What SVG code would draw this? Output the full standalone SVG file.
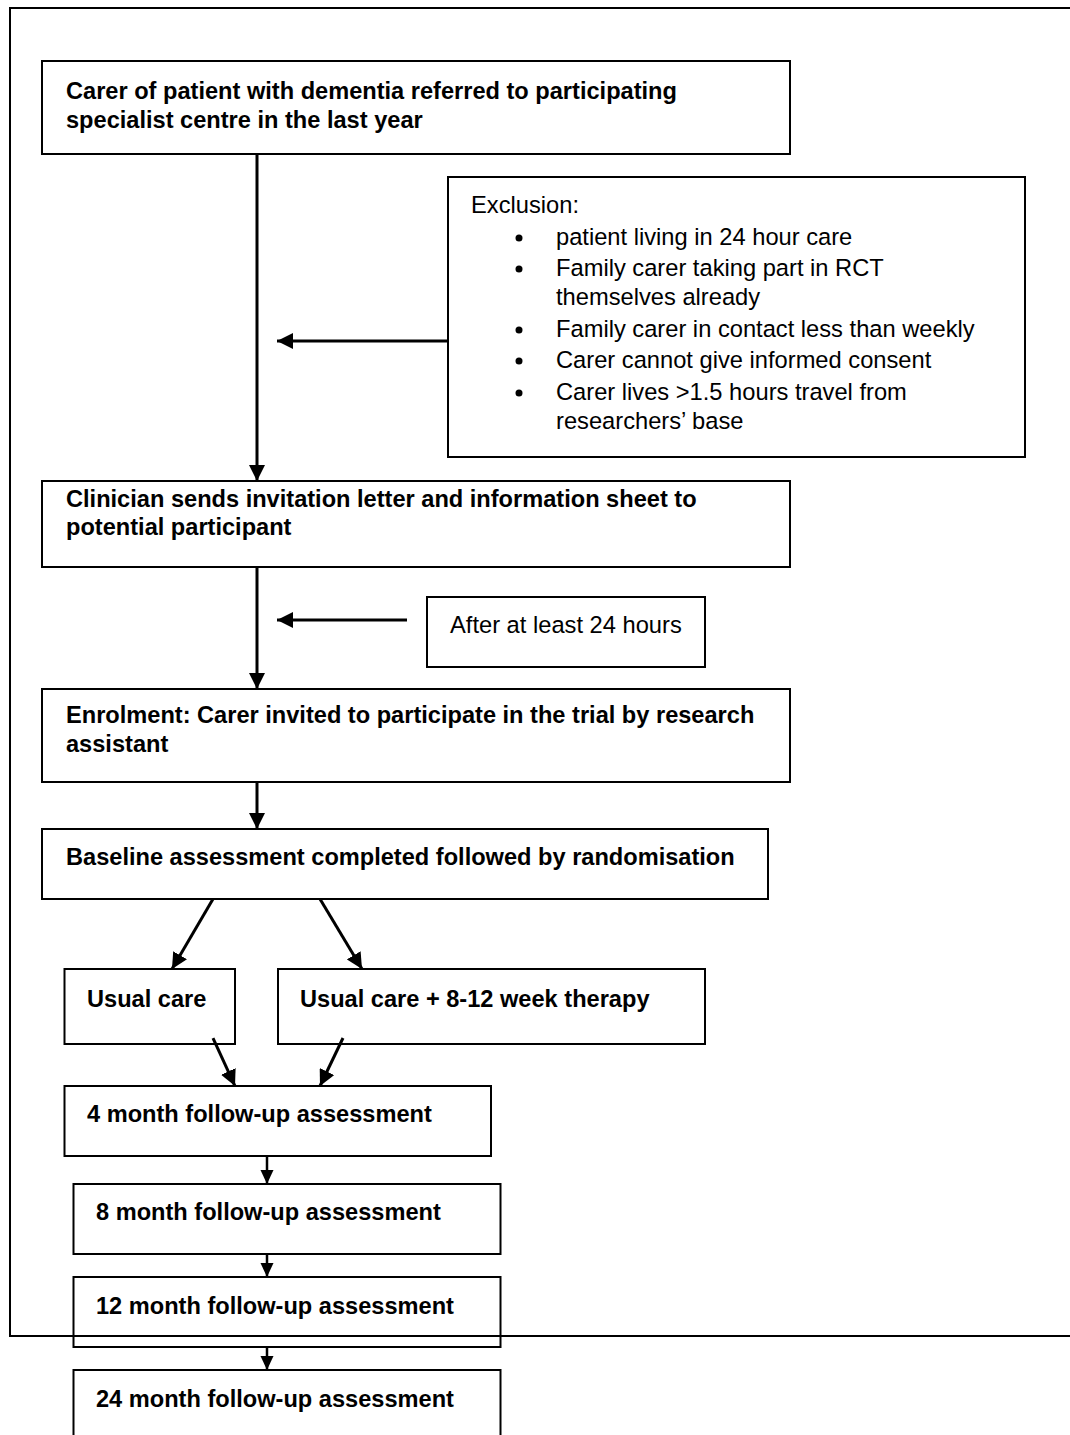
<svg xmlns="http://www.w3.org/2000/svg" width="1070" height="1435" viewBox="0 0 1070 1435">
<style>
.box{fill:none;stroke:#000;stroke-width:2}
.b{font-family:"Liberation Sans",Arial,sans-serif;font-weight:bold;font-size:23.6px;fill:#000}
.n{font-family:"Liberation Sans",Arial,sans-serif;font-size:23.7px;fill:#000}
.c{stroke:#000;stroke-width:3;fill:none}
.c2{stroke:#000;stroke-width:2.5;fill:none}
</style>
<defs>
<marker id="ah" markerUnits="userSpaceOnUse" markerWidth="16" markerHeight="16" viewBox="0 0 16 16" refX="16" refY="8" orient="auto">
<path d="M0,0 L16,8 L0,16 Z" fill="#000"/>
</marker>
<marker id="ahs" markerUnits="userSpaceOnUse" markerWidth="14" markerHeight="14" viewBox="0 0 14 14" refX="14" refY="7" orient="auto">
<path d="M0,0.5 L14,7 L0,13.5 Z" fill="#000"/>
</marker>
</defs>
<rect width="1070" height="1435" fill="#fff"/>

<g id="connectors">
<line class="c" x1="257" y1="154" x2="257" y2="481" marker-end="url(#ah)"/>
<line class="c" x1="448" y1="341" x2="277" y2="341" marker-end="url(#ah)"/>
<line class="c" x1="257" y1="567" x2="257" y2="689" marker-end="url(#ah)"/>
<line class="c" x1="407" y1="620" x2="277" y2="620" marker-end="url(#ah)"/>
<line class="c" x1="257" y1="782" x2="257" y2="829" marker-end="url(#ah)"/>
<line class="c" x1="213" y1="899" x2="172" y2="969" marker-end="url(#ah)"/>
<line class="c" x1="320" y1="899" x2="362" y2="969" marker-end="url(#ah)"/>
<line class="c" x1="213" y1="1038" x2="235" y2="1086" marker-end="url(#ah)"/>
<line class="c" x1="343" y1="1038" x2="320" y2="1086" marker-end="url(#ah)"/>
<line class="c2" x1="267" y1="1157" x2="267" y2="1184" marker-end="url(#ahs)"/>
<line class="c2" x1="267" y1="1254" x2="267" y2="1277" marker-end="url(#ahs)"/>
<line class="c2" x1="267" y1="1347" x2="267" y2="1370" marker-end="url(#ahs)"/>
</g>

<g id="n1">
<rect class="box" x="42" y="61" width="748" height="93"/>
<text class="b" x="66" y="99">Carer of patient with dementia referred to participating</text>
<text class="b" x="66" y="128">specialist centre in the last year</text>
</g>

<g id="exclusion">
<rect class="box" x="448" y="177" width="577" height="280"/>
<text class="n" x="471" y="213">Exclusion:</text>
<g fill="#000">
<circle cx="519" cy="238" r="3.5"/>
<circle cx="519" cy="269" r="3.5"/>
<circle cx="519" cy="330" r="3.5"/>
<circle cx="519" cy="361" r="3.5"/>
<circle cx="519" cy="393" r="3.5"/>
</g>
<text class="n" x="556" y="245">patient living in 24 hour care</text>
<text class="n" x="556" y="276">Family carer taking part in RCT</text>
<text class="n" x="556" y="305">themselves already</text>
<text class="n" x="556" y="337">Family carer in contact less than weekly</text>
<text class="n" x="556" y="368">Carer cannot give informed consent</text>
<text class="n" x="556" y="400">Carer lives &gt;1.5 hours travel from</text>
<text class="n" x="556" y="429">researchers’ base</text>
</g>

<g id="n2">
<rect class="box" x="42" y="481" width="748" height="86"/>
<text class="b" x="66" y="507">Clinician sends invitation letter and information sheet to</text>
<text class="b" x="66" y="535">potential participant</text>
</g>

<g id="wait">
<rect class="box" x="427" y="597" width="278" height="70"/>
<text class="n" x="450" y="633">After at least 24 hours</text>
</g>

<g id="n3">
<rect class="box" x="42" y="689" width="748" height="93"/>
<text class="b" x="66" y="723">Enrolment: Carer invited to participate in the trial by research</text>
<text class="b" x="66" y="752">assistant</text>
</g>

<g id="n4">
<rect class="box" x="42" y="829" width="726" height="70"/>
<text class="b" x="66" y="865">Baseline assessment completed followed by randomisation</text>
</g>

<g id="usual">
<rect class="box" x="64.5" y="969" width="170.5" height="75"/>
<text class="b" x="87" y="1007">Usual care</text>
</g>

<g id="therapy">
<rect class="box" x="278" y="969" width="427" height="75"/>
<text class="b" x="300" y="1007">Usual care + 8-12 week therapy</text>
</g>

<g id="m4">
<rect class="box" x="64.5" y="1086" width="426.5" height="70"/>
<text class="b" x="87" y="1122">4 month follow-up assessment</text>
</g>

<g id="m8">
<rect class="box" x="73.5" y="1184" width="427" height="70"/>
<text class="b" x="96" y="1220">8 month follow-up assessment</text>
</g>

<g id="m12">
<rect class="box" x="73.5" y="1277" width="427" height="70"/>
<text class="b" x="96" y="1314">12 month follow-up assessment</text>
</g>

<g id="m24">
<rect class="box" x="73.5" y="1370" width="427" height="80"/>
<text class="b" x="96" y="1407">24 month follow-up assessment</text>
</g>

<g id="frame">
<path d="M1075,8 H10 V1336 H1075" fill="none" stroke="#000" stroke-width="2"/>
</g>
</svg>
